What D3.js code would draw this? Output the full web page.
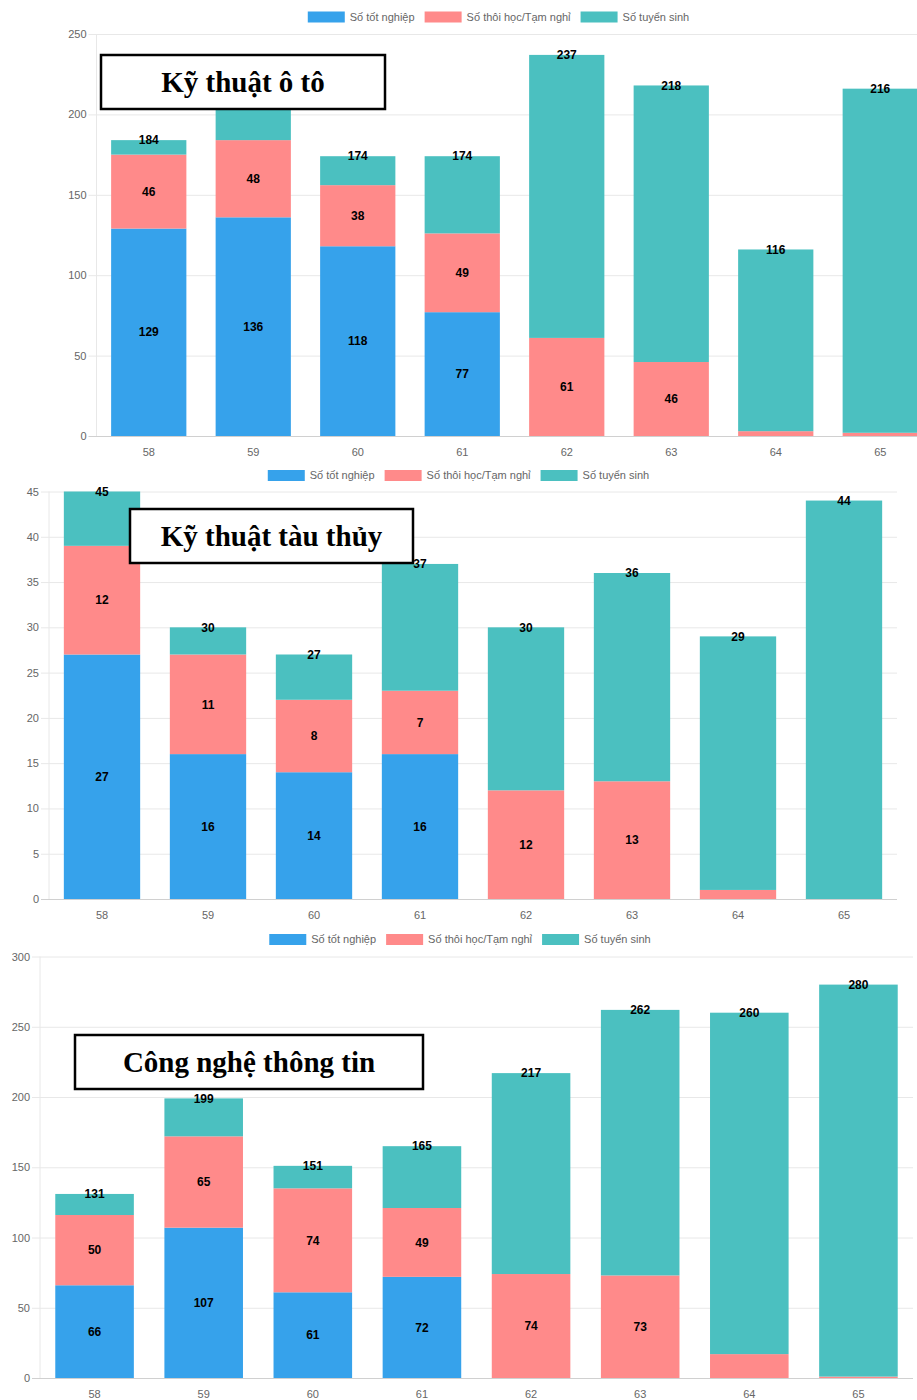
<!DOCTYPE html>
<html>
<head>
<meta charset="utf-8">
<script src="https://cdn.jsdelivr.net/npm/d3@7"></script>
<style>
  html, body { margin: 0; padding: 0; background: #fff; }
  svg { display: block; }
</style>
</head>
<body>
<svg id="chart" width="917" height="1400"></svg>
<script>
// Cohorts (khóa) shown on the x axis
const cohorts = ["58", "59", "60", "61", "62", "63", "64", "65"];

// Series names
const seriesNames = ["Số tốt nghiệp", "Số thôi học/Tạm nghỉ", "Số tuyển sinh"];

// Kỹ thuật ô tô
const autoTitle = "Kỹ thuật ô tô";
const autoGraduated = [129, 136, 118, 77, 0, 0, 0, 0];
const autoDropped   = [46, 48, 38, 49, 61, 46, 3, 2];
const autoEnrolled  = [184, 212, 174, 174, 237, 218, 116, 216];
const autoTicks     = [0, 50, 100, 150, 200, 250];

// Kỹ thuật tàu thủy
const marineTitle = "Kỹ thuật tàu thủy";
const marineGraduated = [27, 16, 14, 16, 0, 0, 0, 0];
const marineDropped   = [12, 11, 8, 7, 12, 13, 1, 0];
const marineEnrolled  = [45, 30, 27, 37, 30, 36, 29, 44];
const marineTicks     = [0, 5, 10, 15, 20, 25, 30, 35, 40, 45];

// Công nghệ thông tin
const itTitle = "Công nghệ thông tin";
const itGraduated = [66, 107, 61, 72, 0, 0, 0, 0];
const itDropped   = [50, 65, 74, 49, 74, 73, 17, 1];
const itEnrolled  = [131, 199, 151, 165, 217, 262, 260, 280];
const itTicks     = [0, 50, 100, 150, 200, 250, 300];

// Dropout counts are labelled only for cohorts that have finished studying
const dropLabelled = [true, true, true, true, true, true, false, false];

const colors = ["#36A2EB", "#FF8A8A", "#4BC0C0"];

const panels = [
  { title: autoTitle, graduated: autoGraduated, dropped: autoDropped, enrolled: autoEnrolled, ticks: autoTicks,
    left: 96.5, right: 932.5, top: 34, bottom: 436, legendY: 17, legendCx: 498.5,
    box: { x: 101, y: 55, w: 284, h: 54 } },
  { title: marineTitle, graduated: marineGraduated, dropped: marineDropped, enrolled: marineEnrolled, ticks: marineTicks,
    left: 49, right: 897, top: 491.5, bottom: 899, legendY: 475.5, legendCx: 458.5,
    box: { x: 130, y: 509, w: 283, h: 54 } },
  { title: itTitle, graduated: itGraduated, dropped: itDropped, enrolled: itEnrolled, ticks: itTicks,
    left: 40, right: 913, top: 956.5, bottom: 1378, legendY: 939.5, legendCx: 460,
    box: { x: 75, y: 1035, w: 348, h: 54 } }
];

const svg = d3.select("#chart");
const sans = "'Liberation Sans', Arial, Helvetica, sans-serif";
const serif = "'Liberation Serif', 'Times New Roman', serif";

function drawPanel(p) {
  const g = svg.append("g");
  const x = d3.scaleBand().domain(cohorts).range([p.left, p.right]).padding(0);
  const yMax = p.ticks[p.ticks.length - 1];
  const y = d3.scaleLinear().domain([0, yMax]).range([p.bottom, p.top]);
  const barW = x.bandwidth() * 0.72;
  const barOff = (x.bandwidth() - barW) / 2;

  // Horizontal gridlines with short tick marks left of the axis
  const yAxis = d3.axisLeft(y).tickValues(p.ticks)
    .tickSizeInner(-(p.right - p.left + 8)).tickSizeOuter(0).tickPadding(2);
  const ya = g.append("g").attr("transform", `translate(${p.left - 8},0)`).call(yAxis);
  ya.select(".domain").remove();
  ya.selectAll(".tick line").attr("stroke", d => d === 0 ? "#d0d0d0" : "#e8e8e8");
  ya.selectAll(".tick text").attr("fill", "#666").style("font-family", sans).style("font-size", "11px");

  // Left axis line
  g.append("line").attr("x1", p.left).attr("x2", p.left)
    .attr("y1", p.top).attr("y2", p.bottom).attr("stroke", "#e8e8e8");

  // Category axis
  const xAxis = d3.axisBottom(x).tickSize(0).tickPadding(12);
  const xa = g.append("g").attr("transform", `translate(0,${p.bottom})`).call(xAxis);
  xa.select(".domain").remove();
  xa.selectAll(".tick text").attr("fill", "#666").style("font-family", sans).style("font-size", "11px");

  // Stacked segments: graduated, dropped, remaining enrolled
  const rows = cohorts.map((c, i) => {
    const gr = p.graduated[i], dr = p.dropped[i], en = p.enrolled[i];
    return [
      { c, y0: 0, y1: gr, v: gr, show: gr > 0 },
      { c, y0: gr, y1: gr + dr, v: dr, show: dr > 0 && dropLabelled[i] },
      { c, y0: gr + dr, y1: en, v: en, show: true, top: true }
    ];
  });

  for (let s = 0; s < 3; s++) {
    g.append("g").selectAll("rect").data(rows.map(r => r[s])).join("rect")
      .attr("x", d => x(d.c) + barOff)
      .attr("width", barW)
      .attr("y", d => y(d.y1))
      .attr("height", d => Math.max(0, y(d.y0) - y(d.y1)))
      .attr("fill", colors[s]);
  }

  // Value labels; any label that would sit under the title box is left out
  const b = p.box;
  const lx = d => x(d.c) + x.bandwidth() / 2;
  const ly = d => d.top ? y(d.y1) : (y(d.y0) + y(d.y1)) / 2;
  const labels = rows.flat().filter(d => d.show)
    .filter(d => !(lx(d) > b.x && lx(d) < b.x + b.w && ly(d) > b.y - 6 && ly(d) < b.y + b.h + 6));
  g.append("g").selectAll("text").data(labels).join("text")
    .attr("x", lx)
    .attr("y", ly)
    .attr("dy", "0.35em")
    .attr("text-anchor", "middle")
    .style("font-family", sans).style("font-size", "12px").style("font-weight", "bold")
    .attr("fill", "#000")
    .text(d => d.v);

  // Legend
  const lg = g.append("g");
  let cx = 0;
  seriesNames.forEach((name, i) => {
    lg.append("rect").attr("x", cx).attr("y", p.legendY - 5.5).attr("width", 37).attr("height", 11)
      .attr("fill", colors[i]);
    const t = lg.append("text").attr("x", cx + 42).attr("y", p.legendY).attr("dy", "0.35em")
      .attr("fill", "#666").style("font-family", sans).style("font-size", "11px").text(name);
    cx += 42 + t.node().getComputedTextLength() + 10;
  });
  const total = cx - 10;
  lg.attr("transform", `translate(${p.legendCx - total / 2},0)`);

  // Title box
  g.append("rect").attr("x", b.x).attr("y", b.y).attr("width", b.w).attr("height", b.h)
    .attr("fill", "#fff").attr("stroke", "#000").attr("stroke-width", 2.5);
  g.append("text").attr("x", b.x + b.w / 2).attr("y", b.y + b.h / 2 + 10)
    .attr("text-anchor", "middle")
    .style("font-family", serif).style("font-size", "29px").style("font-weight", "bold")
    .attr("fill", "#000").text(p.title);
}

panels.forEach(drawPanel);
</script>
</body>
</html>
